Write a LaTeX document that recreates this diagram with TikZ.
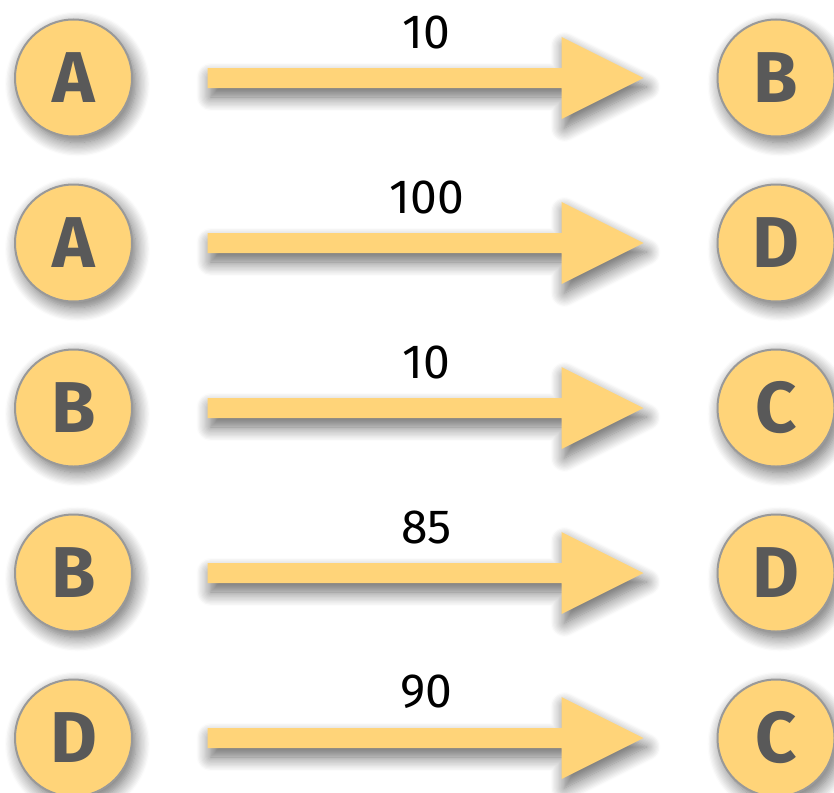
\documentclass[tikz,border=0pt]{standalone}
\usepackage{fontspec}
\setmainfont{Fira Sans}
\usetikzlibrary{calc,shadows.blur}
\definecolor{ylw}{HTML}{FFD479}
\definecolor{rim}{HTML}{999999}
\definecolor{ink}{HTML}{595959}
\tikzset{
  vert/.style={circle, minimum size=117pt, inner sep=0pt, fill=ylw, draw=rim, line width=2pt,
    text=ink, font=\fontsize{72}{72}\selectfont\bfseries,
    blur shadow={shadow xshift=4pt, shadow yshift=-6pt, shadow blur radius=14pt, shadow blur steps=12, shadow opacity=60}},
  wlabel/.style={font=\fontsize{48}{48}\selectfont, text=black, inner sep=0pt},
  fatarrow/.style={fill=ylw, draw=none,
    blur shadow={shadow xshift=3pt, shadow yshift=-9pt, shadow blur radius=14pt, shadow blur steps=12, shadow opacity=60}}
}
\newcommand{\fatarr}[3]{%
  \fill[fatarrow] ($(#1.center)+(134,-10)$) -- ($(#1.center)+(488,-10)$) -- ($(#1.center)+(488,-41)$)
    -- ($(#1.center)+(570,0)$) -- ($(#1.center)+(488,41)$) -- ($(#1.center)+(488,10)$)
    -- ($(#1.center)+(134,10)$) -- cycle;
  \node[wlabel] at ($(#1.center)!0.5!(#2.center)+(2,-46)$) {#3};
}
\begin{document}
\begin{tikzpicture}[x=1pt,y=-1pt]
\useasboundingbox (0,0) rectangle (834,792);
\foreach \i/\l/\r/\w in {0/A/B/10, 1/A/D/100, 2/B/C/10, 3/B/D/85, 4/D/C/90}{
  \node[vert] (L\i) at (73.5, 78+165*\i) {\l};
  \node[vert] (R\i) at (776, 78+165*\i) {\r};
  \fatarr{L\i}{R\i}{\w}
}
\end{tikzpicture}
\end{document}
